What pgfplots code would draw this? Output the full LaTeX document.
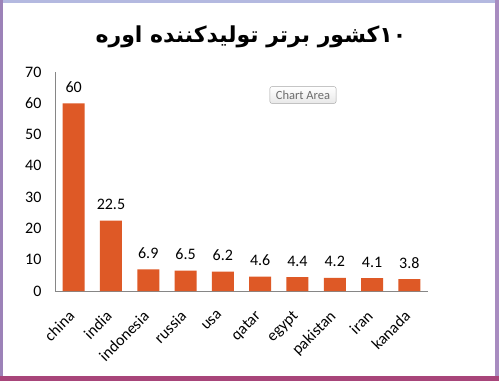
\documentclass[border=0pt]{standalone}
\usepackage{pgfplots}
\pgfplotsset{compat=1.18}
\usepackage{fontspec}
\setmainfont{Carlito}
\newfontfamily\arabicfont[Script=Arabic]{DejaVu Sans}
\TeXXeTstate=1
\definecolor{barc}{RGB}{222,89,38}
\definecolor{axc}{RGB}{134,134,134}
\begin{document}
\begin{tikzpicture}[x=1pt,y=1pt]
\useasboundingbox (0pt,0pt) rectangle (499pt,381pt);
\fill[white] (0pt,0pt) rectangle (499pt,381pt);
\fill[color={rgb,255:red,180;green,185;blue,224}] (0pt,378pt) rectangle (499pt,381pt);
\fill[color={rgb,255:red,156;green,130;blue,184}] (0pt,0pt) rectangle (3pt,381pt);
\fill[color={rgb,255:red,168;green,140;blue,192}] (495pt,0pt) rectangle (499pt,381pt);
\fill[color={rgb,255:red,168;green,69;blue,122}] (0pt,0pt) rectangle (499pt,5pt);
\node[font=\arabicfont\bfseries\fontsize{22}{26}\selectfont] at (251pt,344pt) {\beginR\beginL ۱۰\endL کشور برتر تولیدکننده اوره\endR};
\begin{axis}[
  at={(55pt,90pt)}, anchor=south west, scale only axis,
  width=373pt, height=219pt,
  xmin=-0.5, xmax=9.5, ymin=0, ymax=70,
  ytick={0,10,...,70},
  xtick={0,...,9},
  xticklabels={china,india,indonesia,russia,usa,qatar,egypt,pakistan,iran,kanada},
  axis x line*=bottom, axis y line*=left,
  axis line style={draw=axc},
  major tick length=0pt,
  /pgf/number format/assume math mode=true,
  tick label style={font=\fontsize{16}{19}\selectfont},
  yticklabel style={xshift=-10pt},
  xticklabel style={xshift=-6pt, yshift=-17pt, rotate=45, anchor=north east, inner sep=1pt},
  ybar, bar width=22pt,
  nodes near coords,
  every node near coord/.append style={font=\fontsize{16}{19}\selectfont, anchor=base, yshift=11pt},
  clip=false,
]
\addplot[fill=barc, draw=none] coordinates {(0,60) (1,22.5) (2,6.9) (3,6.5) (4,6.2) (5,4.6) (6,4.4) (7,4.2) (8,4.1) (9,3.8)};
\end{axis}
\node[draw=gray!70, rounded corners=2pt, top color=white, bottom color=gray!18, text=gray!85!black, font=\fontsize{12.5}{15}\selectfont, inner xsep=6pt, inner ysep=4pt] at (303pt,286pt) {Chart Area};
\end{tikzpicture}
\end{document}
